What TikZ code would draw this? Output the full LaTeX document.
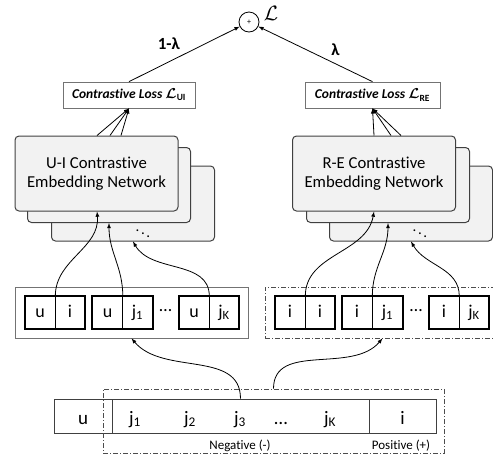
\documentclass[tikz,border=0pt]{standalone}
\usepackage{fontspec}
\setmainfont{Carlito}[Ligatures=NoCommon]
\usetikzlibrary{positioning}

\begin{document}
\begin{tikzpicture}[x=1pt,y=-1pt,
    net/.style={draw=black!75, fill=black!5, rounded corners=4pt, line width=1pt,
      minimum width=163pt, minimum height=75pt, align=center,
      font=\fontsize{16.7}{18.7}\selectfont},
    loss/.style={draw=black!55, line width=0.7pt, minimum width=132pt, minimum height=26pt,
      inner sep=0pt, font=\fontsize{13.5}{15}\selectfont\bfseries\itshape},
    cell/.style={draw=black, line width=0.6pt, minimum width=30pt, minimum height=32pt,
      inner sep=0pt, text height=12.5pt, text depth=3.5pt, font=\fontsize{18}{20}\selectfont},
    pairbox/.style={line width=2pt},
    barcell/.style={draw=black!75, line width=0.8pt, minimum height=34pt, inner sep=0pt},
    lbl/.style={anchor=base, inner sep=0pt, font=\fontsize{19}{20}\selectfont},
    conn/.style={-latex, line width=0.8pt},
    dashdot/.style={draw=black!70, line width=0.7pt, dash pattern=on 5pt off 2pt on 1pt off 2pt},
  ]
  \useasboundingbox (0,0) rectangle (493,459);

  % Sum of the two losses
  \node[circle, draw, line width=0.8pt, minimum size=20pt, inner sep=0pt, font=\footnotesize] (sum) at (249,22) {+};
  \node[font=\fontsize{20}{20}\selectfont] (sumLabel) at (271,13) {$\mathcal{L}$};

  % Loss boxes
  \node[loss] (uiLoss) at (129,95) {Contrastive Loss {\boldmath$\mathcal{L}$}\textsubscript{\upshape UI}};
  \node[loss, minimum width=135pt] (reLoss) at (372.5,95) {Contrastive Loss {\boldmath$\mathcal{L}$}\textsubscript{\upshape RE}};

  \draw[conn] (uiLoss.north) -- node[pos=0.5, above left=1pt, font=\fontsize{17}{18}\selectfont\bfseries] {1-λ} (sum);
  \draw[conn] (reLoss.north) -- node[pos=0.4, above right=1pt, font=\fontsize{17}{18}\selectfont\bfseries] {λ} (sum);

  % U-I embedding networks (stacked)
  \node[net] (uiNet3) at (133,203.5) {};
  \node[net] (uiNet2) at (109,185) {};
  \node[net] (uiNet1) at (96.5,173.5) {U-I Contrastive\\Embedding Network};
  \node[font=\fontsize{15}{15}\selectfont] (uiDots) at (143,231) {$\ddots$};

  % R-E embedding networks (stacked)
  \node[net] (reNet3) at (411,203.5) {};
  \node[net] (reNet2) at (388,185) {};
  \node[net] (reNet1) at (374,173.5) {R-E Contrastive\\Embedding Network};
  \node[font=\fontsize{15}{15}\selectfont] (reDots) at (420,231) {$\ddots$};

  % Networks to losses
  \draw[conn] ([xshift=0.5pt]uiNet1.north) -- (uiLoss.south);
  \draw[conn] ([xshift=13.5pt]uiNet1.north) -- (uiLoss.south);
  \draw[conn] ([xshift=24.5pt]uiNet1.north) -- (uiLoss.south);
  \draw[conn] (reNet1.north) -- (reLoss.south);
  \draw[conn] ([xshift=17pt]reNet1.north) -- (reLoss.south);
  \draw[conn] ([xshift=27pt]reNet1.north) -- (reLoss.south);

  % U-I pairs
  \node[draw=black!55, line width=0.7pt, minimum width=233pt, minimum height=51pt] (uiGroup) at (131.5,312.5) {};
  \node[cell] (uiA1) at (40,312.5) {u};
  \node[cell] (uiA2) at (70,312.5) {i};
  \draw[pairbox] (uiA1.north west) rectangle (uiA2.south east);
  \node[cell] (uiB1) at (107.5,312.5) {u};
  \node[cell] (uiB2) at (137.5,312.5) {j\textsubscript{1}};
  \draw[pairbox] (uiB1.north west) rectangle (uiB2.south east);
  \node[inner sep=0pt, font=\fontsize{18}{18}\selectfont] (uiPairDots) at (165.5,311) {…};
  \node[cell] (uiC1) at (194,312.5) {u};
  \node[cell] (uiC2) at (224,312.5) {j\textsubscript{K}};
  \draw[pairbox] (uiC1.north west) rectangle (uiC2.south east);

  % R-E pairs
  \node[dashdot, minimum width=235pt, minimum height=51pt] (reGroup) at (382.5,312.5) {};
  \node[cell] (reA1) at (290,312.5) {i};
  \node[cell] (reA2) at (320,312.5) {i};
  \draw[pairbox] (reA1.north west) rectangle (reA2.south east);
  \node[cell] (reB1) at (357,312.5) {i};
  \node[cell] (reB2) at (387.5,312.5) {j\textsubscript{1}};
  \draw[pairbox] (reB1.north west) rectangle (reB2.south east);
  \node[inner sep=0pt, font=\fontsize{18}{18}\selectfont] (rePairDots) at (416,311) {…};
  \node[cell] (reC1) at (444,312.5) {i};
  \node[cell] (reC2) at (474,312.5) {j\textsubscript{K}};
  \draw[pairbox] (reC1.north west) rectangle (reC2.south east);

  % Pairs to networks
  \draw[conn] (uiA1.north east) to[out=90,in=-85] ([xshift=0.5pt]uiNet1.south);
  \draw[conn] (uiB1.north east) to[out=90,in=-90] (uiNet2.south);
  \draw[conn] (uiC1.north east) to[out=90,in=-60] (uiNet3.south);
  \draw[conn] (reA1.north east) to[out=90,in=-100] (reNet1.south);
  \draw[conn] (reB1.north east) to[out=90,in=-90] (reNet2.south);
  \draw[conn] (reC1.north east) to[out=90,in=-60] (reNet3.south);

  % Sampled sequence
  \node[barcell, minimum width=58pt] (uCell) at (83,416) {};
  \node[barcell, minimum width=257pt] (negCell) at (240.5,416) {};
  \node[barcell, minimum width=67pt] (posCell) at (402.5,416) {};
  \node[lbl] (uLbl) at (83,424) {u};
  \node[lbl] (jLbl1) at (135,424) {j\textsubscript{1}};
  \node[lbl] (jLbl2) at (190,424) {j\textsubscript{2}};
  \node[lbl] (jLbl3) at (240,424) {j\textsubscript{3}};
  \node[lbl] (jDots) at (281,424) {…};
  \node[lbl] (jLblK) at (330,424) {j\textsubscript{K}};
  \node[lbl] (iLbl) at (402.5,424) {i};
  \node[dashdot, minimum width=341pt, minimum height=64pt] (sampleBox) at (273.5,421) {};
  \node[font=\fontsize{13}{14}\selectfont] (negLbl) at (240,446) {Negative (-)};
  \node[font=\fontsize{13}{14}\selectfont] (posLbl) at (401,446) {Positive (+)};

  % Sequence to pairs
  \draw[conn] (negCell.north) to[out=90,in=-50] (uiGroup.south);
  \draw[conn] (sampleBox.north) to[out=90,in=-130] (reGroup.south);
\end{tikzpicture}
\end{document}
